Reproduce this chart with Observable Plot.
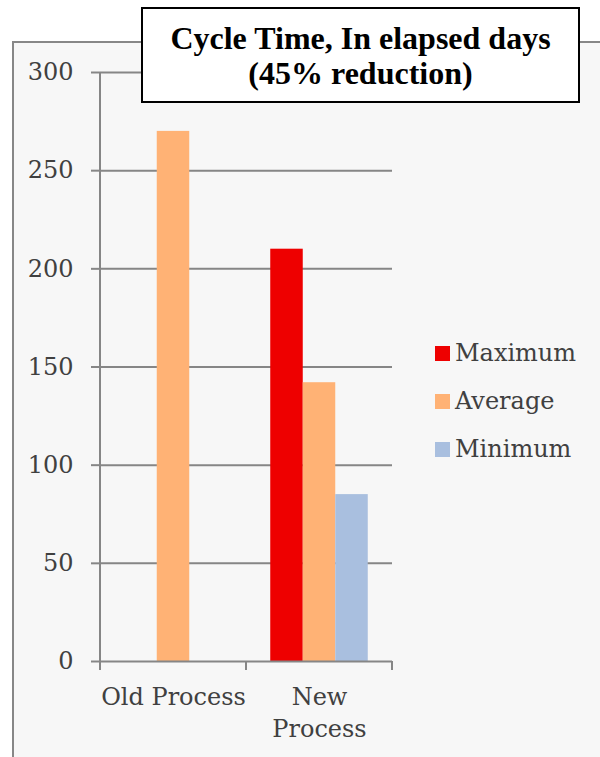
<!DOCTYPE html>
<html>
<head>
<meta charset="utf-8">
<script src="https://cdn.jsdelivr.net/npm/d3@7"></script>
<script src="https://cdn.jsdelivr.net/npm/@observablehq/plot@0.6"></script>
<style>
  html, body { margin: 0; padding: 0; background: #fff; }
  #wrap { position: relative; width: 600px; height: 757px; overflow: hidden; font-family: "DejaVu Serif", serif; }
  #panel { position: absolute; left: 12px; top: 41px; width: 640px; height: 760px; background: #f7f7f7; border: 2px solid #878787; box-sizing: border-box; }
  #chart { position: absolute; left: 0; top: 0; z-index: 1; }
  #title { position: absolute; left: 141px; top: 7px; width: 439px; height: 96px; background: #fff; border: 2px solid #000; box-sizing: border-box; z-index: 2;
           font-family: "Liberation Serif", serif; font-weight: bold; font-size: 32px; line-height: 35px; text-align: center; color: #000; padding-top: 12px; }
  .lg { position: absolute; left: 435px; height: 30px; display: flex; align-items: center; z-index: 2; font-size: 24px; color: #404040; }
  .lg .sw { width: 15px; height: 15px; margin-right: 5px; flex: none; }
</style>
</head>
<body>
<div id="wrap">
  <div id="panel"></div>
  <div id="chart"></div>
  <div id="title"></div>
</div>
<script>
const titleLines = ["Cycle Time, In elapsed days", "(45% reduction)"];
const categories = ["Old Process", "New Process"];
const categoryLabels = ["Old Process", "New\nProcess"];
const series = ["Maximum", "Average", "Minimum"];
const seriesColors = ["#ee0000", "#ffb275", "#a9bfdf"];
const maximumDays = [null, 210];
const averageDays = [270, 142];
const minimumDays = [null, 85];
const yTicks = [0, 50, 100, 150, 200, 250, 300];

const valuesBySeries = [maximumDays, averageDays, minimumDays];
const table = [];
categories.forEach((c, i) => series.forEach((s, j) => {
  const v = valuesBySeries[j][i];
  if (v != null) table.push({category: c, series: s, days: v});
}));

const grey = "#868686";
const yMax = d3.max(yTicks);

const chart = Plot.plot({
  width: 600,
  height: 757,
  marginLeft: 100,
  marginRight: 208,
  marginTop: 72,
  marginBottom: 96,
  style: {fontFamily: '"DejaVu Serif", serif', fontSize: "24px", color: "#404040", background: "transparent", overflow: "visible"},
  fx: {domain: categories, padding: 0, round: false, label: null},
  x: {domain: series, paddingInner: 0, paddingOuter: 0.746, round: false, axis: null},
  y: {domain: [0, yMax]},
  color: {domain: series, range: seriesColors},
  marks: [
    Plot.ruleY(yTicks.filter(d => d > 0), {stroke: grey, strokeWidth: 2}),
    Plot.barY(table, {fx: "category", x: "series", y: "days", fill: "series"}),
    Plot.ruleY([0], {stroke: grey, strokeWidth: 2}),
    Plot.axisY(yTicks, {tickSize: 9, tickPadding: 18, stroke: grey, strokeWidth: 2, fontSize: 24, fill: "#404040", tickFormat: d => String(d), label: null}),
    Plot.axisFx({anchor: "bottom", tickSize: 0, tickPadding: 21, label: null, fontSize: 24, fill: "#404040", lineHeight: 1.33,
                 tickFormat: d => categoryLabels[categories.indexOf(d)]}),
    Plot.ruleY(categories, {
      fx: d => d, y: () => 0, stroke: grey, strokeWidth: 2,
      render(index, scales) {
        const g = d3.create("svg:g").attr("stroke", grey).attr("stroke-width", 2);
        const [x0, x1] = scales.x.range();
        const yb = scales.y(0);
        for (const i of index) {
          g.append("line").attr("x1", x0).attr("x2", x0).attr("y1", yb).attr("y2", yb + 9);
          if (i === 0) g.append("line").attr("x1", x0).attr("x2", x0).attr("y1", scales.y(yMax)).attr("y2", yb);
          if (i === categories.length - 1) g.append("line").attr("x1", x1).attr("x2", x1).attr("y1", yb).attr("y2", yb + 9);
        }
        return g.node();
      }
    })
  ]
});
document.getElementById("chart").appendChild(chart);

document.getElementById("title").innerHTML = titleLines.map(t => `<div>${t}</div>`).join("");

const wrap = document.getElementById("wrap");
series.forEach((s, j) => {
  const row = document.createElement("div");
  row.className = "lg";
  row.style.top = (338 + j * 48) + "px";
  row.innerHTML = `<span class="sw" style="background:${seriesColors[j]}"></span><span>${s}</span>`;
  wrap.appendChild(row);
});
</script>
</body>
</html>
